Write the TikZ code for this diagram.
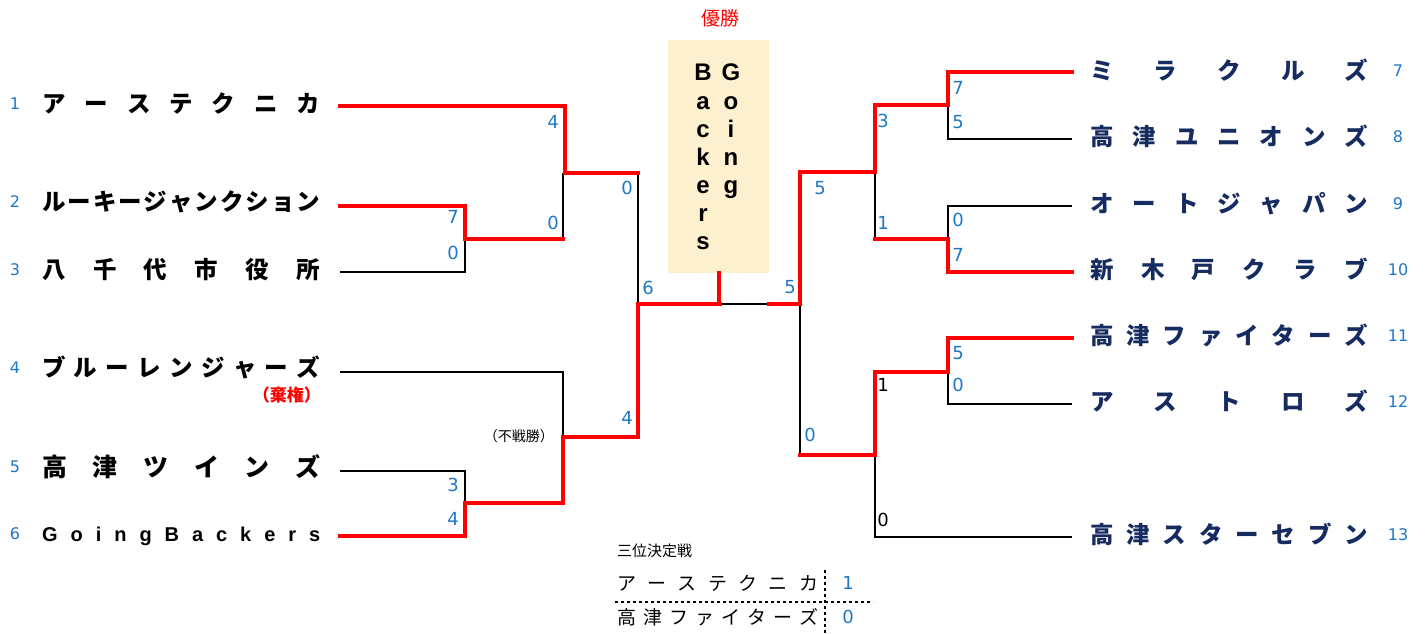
\documentclass[tikz,border=0pt]{standalone}
\usepackage{fontspec}
\setmainfont{Liberation Sans}
\newfontfamily\jp{Noto Sans CJK JP}
\newfontfamily\numfont{DejaVu Sans}
\definecolor{scoreblue}{RGB}{30,120,200}
\definecolor{navy}{RGB}{22,44,96}
\definecolor{cream}{RGB}{253,240,206}
% spread the letters of a name over a fixed width
\def\spreadfirst#1{#1\spreadrest}
\def\spreadrest#1{\ifx\relax#1\else\hfill#1\expandafter\spreadrest\fi}
\newcommand\spreadname[2]{\hbox to #1{\spreadfirst#2\relax}}
\tikzset{
  win/.style={red,line width=4pt,line cap=rect},
  lose/.style={line width=1.3pt},
  score/.style={text=scoreblue,inner sep=0pt,font=\numfont\fontsize{18}{18}\selectfont},
  seed/.style={score,font=\numfont\fontsize{16}{16}\selectfont},
  lname/.style={anchor=base west,inner sep=0pt,font=\jp\bfseries\fontsize{23.5}{23.5}\selectfont},
  rname/.style={lname,text=navy},
  boxletter/.style={anchor=base,inner sep=0pt,font=\bfseries\fontsize{24}{24}\selectfont}
}
\begin{document}
\begin{tikzpicture}[x=1pt,y=-1pt]
  \useasboundingbox (0,0) rectangle (1426,634);
  % left block
  \node[seed] (n1) at (15,104) {1};
  \node[seed] (n2) at (15,202) {2};
  \node[seed] (n3) at (15,270) {3};
  \node[seed] (n4) at (15,368) {4};
  \node[seed] (n5) at (15,467) {5};
  \node[seed] (n6) at (15,534) {6};
  \node[lname] (t1) at (42,112.5) {\spreadname{278pt}{アーステクニカ}};
  \node[lname] (t2) at (42,210.5) {\spreadname{278pt}{ルーキージャンクション}};
  \node[lname] (t3) at (42,278.5) {\spreadname{278pt}{八千代市役所}};
  \node[lname] (t4) at (42,376.5) {\spreadname{278pt}{ブルーレンジャーズ}};
  \node[lname,font=\jp\bfseries\fontsize{25}{25}\selectfont] (t5) at (42,476) {\spreadname{278pt}{高津ツインズ}};
  \node[lname,font=\bfseries\fontsize{20}{20}\selectfont] (t6) at (42,541.5) {\spreadname{278pt}{GoingBackers}};
  \node[anchor=east,inner sep=0pt,text=red,font=\jp\bfseries\fontsize{17}{17}\selectfont] (kiken) at (321,395) {（棄権）};
  \node[anchor=east,inner sep=0pt,font=\jp\fontsize{14}{14}\selectfont] (fusen) at (554,436) {（不戦勝）};
  % right block
  \node[rname] (t7) at (1090,79.5) {\spreadname{278pt}{ミラクルズ}};
  \node[rname] (t8) at (1090,145.5) {\spreadname{278pt}{高津ユニオンズ}};
  \node[rname] (t9) at (1090,212.5) {\spreadname{278pt}{オートジャパン}};
  \node[rname] (t10) at (1090,278.5) {\spreadname{278pt}{新木戸クラブ}};
  \node[rname] (t11) at (1090,344.5) {\spreadname{278pt}{高津ファイターズ}};
  \node[rname] (t12) at (1090,410.5) {\spreadname{278pt}{アストロズ}};
  \node[rname] (t13) at (1090,543.5) {\spreadname{278pt}{高津スターセブン}};
  \node[seed] (n7) at (1398,71) {7};
  \node[seed] (n8) at (1398,137) {8};
  \node[seed] (n9) at (1398,204) {9};
  \node[seed] (n10) at (1398,270) {10};
  \node[seed] (n11) at (1398,336) {11};
  \node[seed] (n12) at (1398,402) {12};
  \node[seed] (n13) at (1398,535) {13};
  % champion
  \node[text=red,inner sep=0pt,font=\jp\fontsize{19}{19}\selectfont] (yusho) at (720,18) {優勝};
  \node[fill=cream,minimum width=101pt,minimum height=233pt,inner sep=0pt] (champ) at (718.5,156.5) {};
  \foreach \ch [count=\i from 0] in {B,a,c,k,e,r,s}
    \node[boxletter] (b\i) at (703,81+28*\i) {\ch};
  \foreach \ch [count=\i from 0] in {G,o,i,n,g}
    \node[boxletter] (g\i) at (731,81+28*\i) {\ch};
  % losing lines
  \draw[lose] (340,272) -| (465,239);
  \draw[lose] (563,239) -- (563,173);
  \draw[lose] (638,173) -- (638,304);
  \draw[lose] (340,372) -| (563,437);
  \draw[lose] (340,471) -| (465,503);
  \draw[lose] (720,304) -- (769,304);
  \draw[lose] (800,304) -- (800,455);
  \draw[lose] (875,172) -- (875,239);
  \draw[lose] (948,105) |- (1072,139);
  \draw[lose] (1072,206) -| (948,239);
  \draw[lose] (948,372) |- (1072,404);
  \draw[lose] (875,455) |- (1072,537);
  % winning lines
  \draw[win] (340,106) -| (565,173) -- (638,173);
  \draw[win] (340,206) -| (465,239) -- (563,239);
  \draw[win] (340,536) -| (465,503) -- (563,503) -- (563,437) -- (638,437) -- (638,304) -- (720,304);
  \draw[win] (champ.south) -- (champ.south |- 0,304);
  \draw[win] (769,304) -- (800,304) -- (800,172) -- (875,172) -- (875,105) -- (948,105) -- (948,72) -- (1072,72);
  \draw[win] (875,239) -- (948,239) -- (948,272) -- (1072,272);
  \draw[win] (800,455) -- (875,455) -- (875,372) -- (948,372) -- (948,338) -- (1072,338);
  % scores
  \node[score] (s1) at (553,122) {4};
  \node[score] (s2) at (553,223) {0};
  \node[score] (s3) at (453,217) {7};
  \node[score] (s4) at (453,253) {0};
  \node[score] (s5) at (627,188) {0};
  \node[score] (s6) at (648,288) {6};
  \node[score] (s7) at (627,418) {4};
  \node[score] (s8) at (453,485) {3};
  \node[score] (s9) at (453,519) {4};
  \node[score] (s10) at (790,287) {5};
  \node[score] (s11) at (820,188) {5};
  \node[score] (s12) at (810,435) {0};
  \node[score] (s13) at (883,121) {3};
  \node[score] (s14) at (883,223) {1};
  \node[score] (s15) at (958,88) {7};
  \node[score] (s16) at (958,122) {5};
  \node[score] (s17) at (958,220) {0};
  \node[score] (s18) at (958,255) {7};
  \node[score] (s19) at (958,353) {5};
  \node[score] (s20) at (958,385) {0};
  \node[score,text=black] (s21) at (883,385) {1};
  \node[score,text=black] (s22) at (883,520) {0};
  % third place
  \node[anchor=west,inner sep=0pt,font=\jp\fontsize{15}{15}\selectfont] (third) at (617,551) {三位決定戦};
  \node[anchor=base west,inner sep=0pt,font=\jp\fontsize{19}{19}\selectfont] (p1) at (617,590) {\spreadname{201pt}{アーステクニカ}};
  \node[anchor=base west,inner sep=0pt,font=\jp\fontsize{19}{19}\selectfont] (p2) at (617,624) {\spreadname{201pt}{高津ファイターズ}};
  \node[score] (q1) at (848,583) {1};
  \node[score] (q2) at (848,617) {0};
  \draw[line width=2.5pt,dash pattern=on 2.5pt off 3.5pt] (825,570) -- (825,634);
  \draw[line width=2.5pt,dash pattern=on 2.5pt off 3.5pt] (615,602) -- (873,602);
\end{tikzpicture}
\end{document}
